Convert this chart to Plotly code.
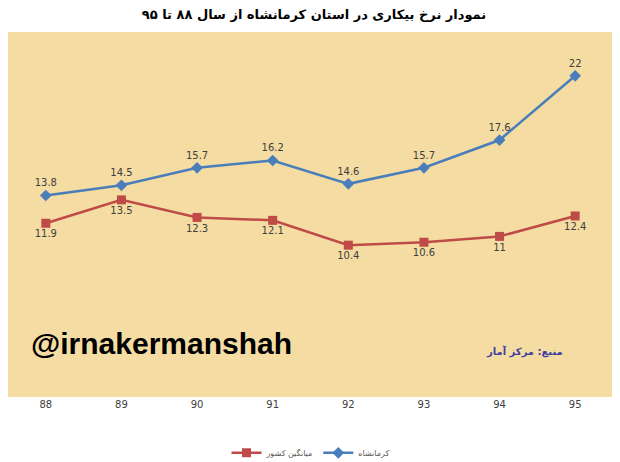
import plotly.graph_objects as go

years = ["88", "89", "90", "91", "92", "93", "94", "95"]
kermanshah = [13.8, 14.5, 15.7, 16.2, 14.6, 15.7, 17.6, 22]
kermanshah_labels = ["13.8", "14.5", "15.7", "16.2", "14.6", "15.7", "17.6", "22"]
national = [11.9, 13.5, 12.3, 12.1, 10.4, 10.6, 11, 12.4]
national_labels = ["11.9", "13.5", "12.3", "12.1", "10.4", "10.6", "11", "12.4"]

name_k = "کرمانشاه"
name_n = "میانگین کشور"
title_text = "نمودار نرخ بیکاری در استان کرمانشاه از سال ۸۸ تا ۹۵"
source_text = "منبع: مرکز آمار"
watermark = "@irnakermanshah"

fig = go.Figure()
fig.add_trace(go.Scatter(
    x=years, y=national, name=name_n, mode="lines+markers+text",
    text=national_labels, textposition="bottom center",
    textfont=dict(family="DejaVu Sans", size=10, color="#404040"),
    line=dict(color="#be4b48", width=2.5),
    marker=dict(symbol="square", size=9, color="#be4b48"),
))
fig.add_trace(go.Scatter(
    x=years, y=kermanshah, name=name_k, mode="lines+markers+text",
    text=kermanshah_labels, textposition="top center",
    textfont=dict(family="DejaVu Sans", size=10, color="#404040"),
    line=dict(color="#4a7ebb", width=2.5),
    marker=dict(symbol="diamond", size=9, color="#4a7ebb"),
))

fig.update_layout(
    width=612, height=454,
    margin=dict(l=0, r=7, t=24, b=65, autoexpand=False),
    paper_bgcolor="white",
    plot_bgcolor="#f5dca3",
    title=dict(text="<b>" + title_text + "</b>", x=0.5, xanchor="center",
               y=0.985, yanchor="middle",
               font=dict(family="DejaVu Sans", size=13, color="black")),
    xaxis=dict(type="category", range=[-0.5, 7.5], showgrid=False, zeroline=False,
               showline=False, ticks="", automargin=False,
               tickfont=dict(family="DejaVu Sans", size=10, color="#404040")),
    yaxis=dict(range=[0, 25], showgrid=False, zeroline=False, showticklabels=False,
               showline=False, automargin=False),
    legend=dict(orientation="h", x=0.5, xanchor="center", y=-0.153, yanchor="middle",
                font=dict(family="DejaVu Sans", size=8, color="#595959"),
                bgcolor="rgba(0,0,0,0)"),
    showlegend=True,
    annotations=[
        dict(text="<b>" + watermark + "</b>", xref="paper", yref="paper",
             x=0.035, y=0.146, xanchor="left", yanchor="middle", showarrow=False,
             font=dict(family="Liberation Sans", size=30, color="black")),
        dict(text="<b>" + source_text + "</b>", xref="paper", yref="paper",
             x=0.921, y=0.126, xanchor="right", yanchor="middle", showarrow=False,
             font=dict(family="DejaVu Sans", size=10, color="#3f3f9f")),
    ],
)

fig.write_html("out.html")
